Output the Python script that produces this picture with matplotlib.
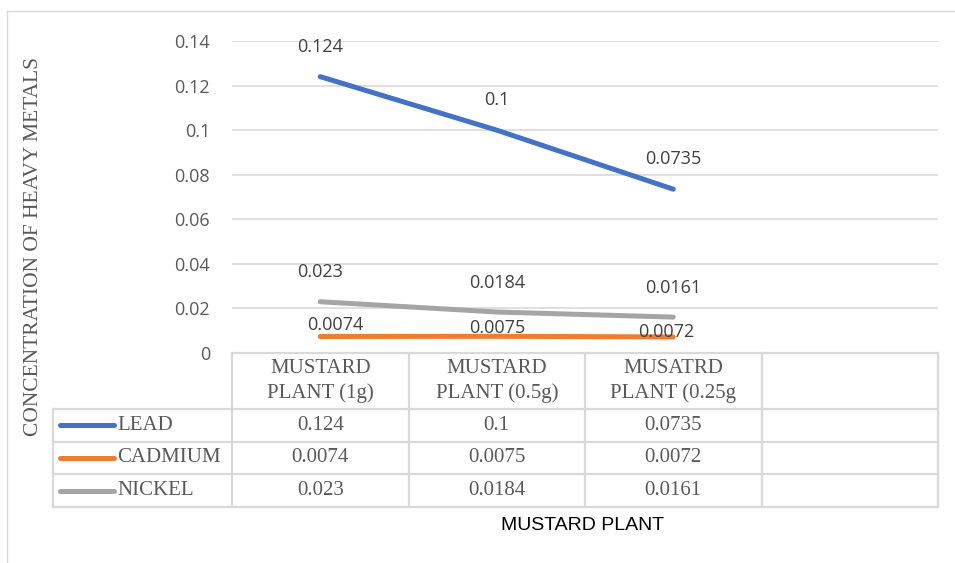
import matplotlib
matplotlib.use("Agg")
import matplotlib.pyplot as plt
from matplotlib.lines import Line2D

# data
categories = ["MUSTARD\nPLANT (1g)", "MUSTARD\nPLANT (0.5g)", "MUSATRD\nPLANT (0.25g", ""]
series_names = ["LEAD", "CADMIUM", "NICKEL"]
lead = [0.124, 0.1, 0.0735]
cadmium = [0.0074, 0.0075, 0.0072]
nickel = [0.023, 0.0184, 0.0161]
yticks = [0, 0.02, 0.04, 0.06, 0.08, 0.1, 0.12, 0.14]
ytick_labels = ["0", "0.02", "0.04", "0.06", "0.08", "0.1", "0.12", "0.14"]

colors = ["#4472C4", "#ED7D31", "#A5A5A5"]
series = [lead, cadmium, nickel]
# label offsets in pixels (dx, dy), cadmium labels sit tighter to the line
label_offsets = [
    [(0, 30), (0, 30), (0, 30)],
    [(15, 11.5), (0, 8), (-7, 4.5)],
    [(0, 30), (0, 29), (0, 29)],
]

W, H = 955, 563
def fx(px):
    return px / W
def fy(py):
    return 1 - py / H

grid_c = "#D9D9D9"
txt_c = "#595959"
label_font = "Open Sans"
serif = "Liberation Serif"

fig = plt.figure(figsize=(W / 100, H / 100), dpi=100)

# chart area border (cropped on the right/bottom in the reference)
fig.add_artist(Line2D([fx(7), 1.0], [fy(11), fy(11)], transform=fig.transFigure, color=grid_c, lw=1))
fig.add_artist(Line2D([fx(7), fx(7)], [fy(11), 0.0], transform=fig.transFigure, color=grid_c, lw=1))

ax = fig.add_axes([fx(232), fy(353), fx(938) - fx(232), (353 - 41) / H])
ax.set_xlim(-0.5, 3.5)
ax.set_ylim(0, 0.14)
ax.set_yticks(yticks)
ax.set_yticklabels(ytick_labels, fontfamily=label_font, fontsize=13, color=txt_c)
ax.set_xticks([])
ax.tick_params(axis="y", length=0, pad=15.8)
ax.yaxis.grid(True, color=grid_c, lw=1.2)
ax.set_axisbelow(True)
for s in ax.spines.values():
    s.set_visible(False)

x = list(range(len(lead)))
for vals, c, offs in zip(series, colors, label_offsets):
    ax.plot(x, vals, color=c, lw=3.6, solid_capstyle="round", clip_on=False, zorder=3)
    for xi, v, (dx, dy) in zip(x, vals, offs):
        ax.annotate("{:g}".format(v), (xi, v), xytext=(dx * 0.72, dy * 0.72),
                    textcoords="offset points", ha="center", va="center",
                    fontfamily=label_font, fontsize=13, color="#404040",
                    annotation_clip=False, zorder=4)

# data table below the plot
col_w = 176.5
left = -0.5 - (232 - 53) / col_w
tax = fig.add_axes([fx(53), fy(507), fx(938) - fx(53), (507 - 353) / H])
tax.set_xlim(left, 3.5)
tax.set_ylim(154, 0)
tax.axis("off")

rows = [0, 56, 88.5, 121, 154]
tax.plot([-0.5, 3.5], [rows[0], rows[0]], color=grid_c, lw=1.6, clip_on=False)
for r in rows[1:]:
    tax.plot([left, 3.5], [r, r], color=grid_c, lw=1.6, clip_on=False)
tax.plot([left, left], [rows[1], rows[-1]], color=grid_c, lw=1.6, clip_on=False)
for cx in [-0.5, 0.5, 1.5, 2.5, 3.5]:
    tax.plot([cx, cx], [rows[0], rows[-1]], color=grid_c, lw=1.6, clip_on=False)

for i, cat in enumerate(categories):
    tax.text(i, (rows[0] + rows[1]) / 2, cat, ha="center", va="center",
             fontfamily=serif, fontsize=15, color=txt_c, linespacing=1.3)

for r, (name, vals, c) in enumerate(zip(series_names, series, colors)):
    yc = (rows[r + 1] + rows[r + 2]) / 2
    tax.plot([left + 7 / col_w, left + 61 / col_w], [yc, yc], color=c, lw=3.6,
             solid_capstyle="round", clip_on=False)
    tax.text(left + 64 / col_w, yc, name, ha="left", va="center",
             fontfamily=serif, fontsize=15, color=txt_c)
    for i, v in enumerate(vals):
        tax.text(i, yc, "{:g}".format(v), ha="center", va="center",
                 fontfamily=serif, fontsize=15, color=txt_c)

fig.text(fx(34), fy(247), "CONCENTRATION OF HEAVY METALS", rotation=90,
         ha="center", va="center", fontfamily=serif, fontsize=15.5, color=txt_c)
fig.text(fx(583), fy(525), "MUSTARD PLANT", ha="center", va="center",
         fontfamily="Liberation Sans", fontsize=14, color="black")

fig.savefig("out.png", dpi=100)
